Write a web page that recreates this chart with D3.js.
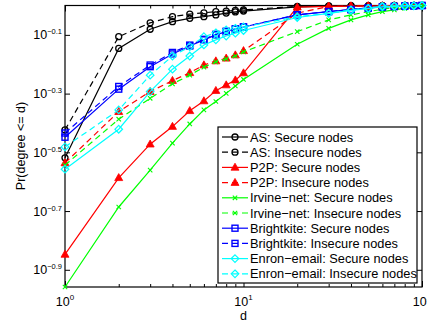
<!DOCTYPE html>
<html>
<head>
<meta charset="utf-8">
<script src="https://d3js.org/d3.v7.min.js"></script>
<style>
  body { margin: 0; background: #fff; }
  text { font-family: "Liberation Sans", Arial, sans-serif; }
</style>
</head>
<body>
<script>
var width = 427, height = 324;

// degree values on the x axis
var dVals = [1, 2, 3, 4, 5, 6, 7, 8, 9, 10, 20, 30, 40, 50, 60, 70, 80, 90, 100];

// Pr(degree <= d)
var asSecure     = [0.303, 0.714, 0.830, 0.881, 0.904, 0.916, 0.929, 0.942, 0.951, 0.957, 0.989, 0.995, 0.997, 0.998, 0.999, 0.999, 1.0, 1.0, 1.0];
var asInsecure   = [0.377, 0.783, 0.873, 0.916, 0.935, 0.944, 0.953, 0.957, 0.962, 0.966, 0.993, 0.997, 0.998, 0.999, 0.999, 1.0, 1.0, 1.0, 1.0];
var p2pSecure    = [0.142, 0.259, 0.337, 0.387, 0.438, 0.473, 0.513, 0.536, 0.557, 0.589, 0.987, 0.993, 0.995, 0.996, 0.997, 0.998, 0.998, 0.999, 1.0];
var p2pInsecure  = [0.291, 0.435, 0.509, 0.555, 0.590, 0.627, 0.647, 0.661, 0.678, 0.701, 0.942, 0.993, 0.996, 0.997, 0.998, 0.999, 0.999, 1.0, 1.0];
var irvSecure    = [0.110, 0.206, 0.275, 0.340, 0.395, 0.441, 0.471, 0.502, 0.532, 0.560, 0.738, 0.836, 0.893, 0.929, 0.953, 0.966, 0.978, 0.986, 0.991];
var irvInsecure  = [0.286, 0.410, 0.483, 0.541, 0.579, 0.617, 0.643, 0.658, 0.673, 0.695, 0.815, 0.893, 0.929, 0.953, 0.971, 0.986, 0.993, 0.995, 1.0];
var bkSecure     = [0.356, 0.519, 0.619, 0.684, 0.728, 0.764, 0.794, 0.815, 0.832, 0.845, 0.929, 0.953, 0.968, 0.981, 0.989, 0.992, 0.995, 0.997, 1.0];
var bkInsecure   = [0.368, 0.530, 0.627, 0.692, 0.733, 0.767, 0.798, 0.817, 0.832, 0.845, 0.930, 0.954, 0.969, 0.981, 0.989, 0.993, 0.995, 0.997, 1.0];
var enSecure     = [0.277, 0.379, 0.509, 0.607, 0.673, 0.734, 0.764, 0.787, 0.805, 0.822, 0.910, 0.940, 0.962, 0.977, 0.989, 0.993, 0.996, 0.998, 1.0];
var enInsecure   = [0.330, 0.441, 0.579, 0.673, 0.724, 0.783, 0.807, 0.826, 0.836, 0.845, 0.916, 0.940, 0.966, 0.978, 0.995, 0.997, 0.998, 0.999, 1.0];

var seriesNames = ['AS: Secure nodes', 'AS: Insecure nodes', 'P2P: Secure nodes', 'P2P: Insecure nodes',
  'Irvine\u2212net: Secure nodes', 'Irvine\u2212net: Insecure nodes', 'Brightkite: Secure nodes',
  'Brightkite: Insecure nodes', 'Enron\u2212email: Secure nodes', 'Enron\u2212email: Insecure nodes'];
var seriesValues = [asSecure, asInsecure, p2pSecure, p2pInsecure, irvSecure, irvInsecure, bkSecure, bkInsecure, enSecure, enInsecure];
var seriesColors = ['#000000', '#000000', '#ff0000', '#ff0000', '#00ff00', '#00ff00', '#0000ff', '#0000ff', '#00ffff', '#00ffff'];
var seriesMarkers = ['circle', 'circle', 'triangle', 'triangle', 'x', 'x', 'square', 'square', 'diamond', 'diamond'];
var seriesDashed = [false, true, false, true, false, true, false, true, false, true];

var yTickExps = [-0.9, -0.7, -0.5, -0.3, -0.1];
var yTickLabels = ['\u22120.9', '\u22120.7', '\u22120.5', '\u22120.3', '\u22120.1'];
var xTickVals = [1, 10, 100];
var xTickLabels = ['0', '1', '2'];
var xMinorVals = [2, 3, 4, 5, 6, 7, 8, 9, 20, 30, 40, 50, 60, 70, 80, 90];

var plotL = 65, plotR = 422, plotT = 5.5, plotB = 287;

var xScale = d3.scaleLog().domain([1, 100]).range([plotL, plotR]);
var yScale = d3.scaleLog().domain([0.11, 1]).range([plotB, plotT]);

var svg = d3.select('body').append('svg')
  .attr('width', width)
  .attr('height', height);

// axes box and ticks
function tickStyle(g) {
  g.select('.domain').remove();
  g.selectAll('line').attr('stroke', '#000').attr('stroke-width', 1);
}

var yVals = yTickExps.map(function(e) { return Math.pow(10, e); });

svg.append('g').attr('transform', 'translate(' + plotL + ',0)')
  .call(d3.axisLeft(yScale).tickValues(yVals).tickSize(-5).tickFormat(''))
  .call(tickStyle);
svg.append('g').attr('transform', 'translate(' + plotR + ',0)')
  .call(d3.axisRight(yScale).tickValues(yVals).tickSize(-5).tickFormat(''))
  .call(tickStyle);
svg.append('g').attr('transform', 'translate(0,' + plotB + ')')
  .call(d3.axisBottom(xScale).tickValues(xTickVals).tickSize(-6).tickFormat(''))
  .call(tickStyle);
svg.append('g').attr('transform', 'translate(0,' + plotB + ')')
  .call(d3.axisBottom(xScale).tickValues(xMinorVals).tickSize(-3).tickFormat(''))
  .call(tickStyle);
svg.append('g').attr('transform', 'translate(0,' + plotT + ')')
  .call(d3.axisTop(xScale).tickValues(xTickVals).tickSize(-6).tickFormat(''))
  .call(tickStyle);
svg.append('g').attr('transform', 'translate(0,' + plotT + ')')
  .call(d3.axisTop(xScale).tickValues(xMinorVals).tickSize(-3).tickFormat(''))
  .call(tickStyle);

svg.append('rect')
  .attr('x', plotL).attr('y', plotT)
  .attr('width', plotR - plotL).attr('height', plotB - plotT)
  .attr('fill', 'none').attr('stroke', '#000').attr('stroke-width', 1.2);

// tick labels with superscripts
yVals.forEach(function(v, i) {
  var t = svg.append('text')
    .attr('x', plotL - 3)
    .attr('y', yScale(v) + 4.5)
    .attr('text-anchor', 'end')
    .attr('font-size', 12.5);
  t.append('tspan').text('10');
  t.append('tspan').attr('dy', -5).attr('font-size', 7.5).text(yTickLabels[i]);
});

xTickVals.forEach(function(v, i) {
  var t = svg.append('text')
    .attr('x', xScale(v))
    .attr('y', 306)
    .attr('text-anchor', 'middle')
    .attr('font-size', 12.5);
  t.append('tspan').text('10');
  t.append('tspan').attr('dy', -6).attr('font-size', 8).text(xTickLabels[i]);
});

svg.append('text')
  .attr('x', xScale(10)).attr('y', 320)
  .attr('text-anchor', 'middle')
  .attr('font-size', 12.5)
  .text('d');

svg.append('text')
  .attr('transform', 'translate(25,146) rotate(-90)')
  .attr('text-anchor', 'middle')
  .attr('font-size', 12.5)
  .text('Pr(degree <= d)');

// markers
function drawMarker(g, type, cx, cy, color) {
  if (type === 'circle') {
    g.append('circle').attr('cx', cx).attr('cy', cy).attr('r', 3)
      .attr('fill', 'none').attr('stroke', color).attr('stroke-width', 1.3);
  } else if (type === 'triangle') {
    g.append('path')
      .attr('d', 'M' + cx + ',' + (cy - 4.2) + 'L' + (cx + 4) + ',' + (cy + 2.8) + 'L' + (cx - 4) + ',' + (cy + 2.8) + 'Z')
      .attr('fill', color).attr('stroke', color).attr('stroke-width', 0.8);
  } else if (type === 'x') {
    var s = 2.2;
    g.append('path')
      .attr('d', 'M' + (cx - s) + ',' + (cy - s) + 'L' + (cx + s) + ',' + (cy + s) +
        'M' + (cx - s) + ',' + (cy + s) + 'L' + (cx + s) + ',' + (cy - s))
      .attr('stroke', color).attr('stroke-width', 1.1);
  } else if (type === 'square') {
    g.append('rect').attr('x', cx - 3).attr('y', cy - 3).attr('width', 6).attr('height', 6)
      .attr('fill', 'none').attr('stroke', color).attr('stroke-width', 1.4);
  } else if (type === 'diamond') {
    var h = 3.8;
    g.append('path')
      .attr('d', 'M' + cx + ',' + (cy - h) + 'L' + (cx + h) + ',' + cy + 'L' + cx + ',' + (cy + h) + 'L' + (cx - h) + ',' + cy + 'Z')
      .attr('fill', 'none').attr('stroke', color).attr('stroke-width', 1.2);
  }
}

var line = d3.line()
  .x(function(d) { return xScale(d[0]); })
  .y(function(d) { return yScale(d[1]); });

seriesValues.forEach(function(vals, i) {
  var pts = dVals.map(function(d, j) { return [d, vals[j]]; });
  var g = svg.append('g');
  g.append('path')
    .attr('d', line(pts))
    .attr('fill', 'none')
    .attr('stroke', seriesColors[i])
    .attr('stroke-width', 1.2)
    .attr('stroke-dasharray', seriesDashed[i] ? '6,4' : null);
  pts.forEach(function(p) {
    drawMarker(g, seriesMarkers[i], xScale(p[0]), yScale(p[1]), seriesColors[i]);
  });
});

// legend
var lgX = 218, lgY = 127, lgW = 199, lgH = 156, rowH = 15.2;
var legend = svg.append('g');
legend.append('rect')
  .attr('x', lgX).attr('y', lgY).attr('width', lgW).attr('height', lgH)
  .attr('fill', '#fff').attr('stroke', '#000').attr('stroke-width', 1.2);

seriesNames.forEach(function(name, i) {
  var cy = 137 + i * rowH;
  legend.append('line')
    .attr('x1', 222).attr('x2', 248).attr('y1', cy).attr('y2', cy)
    .attr('stroke', seriesColors[i]).attr('stroke-width', 1.2)
    .attr('stroke-dasharray', seriesDashed[i] ? '6,4' : null);
  drawMarker(legend, seriesMarkers[i], 235, cy, seriesColors[i]);
  legend.append('text')
    .attr('x', 250).attr('y', cy + 4.5)
    .attr('font-size', 12.8)
    .text(name);
});
</script>
</body>
</html>
